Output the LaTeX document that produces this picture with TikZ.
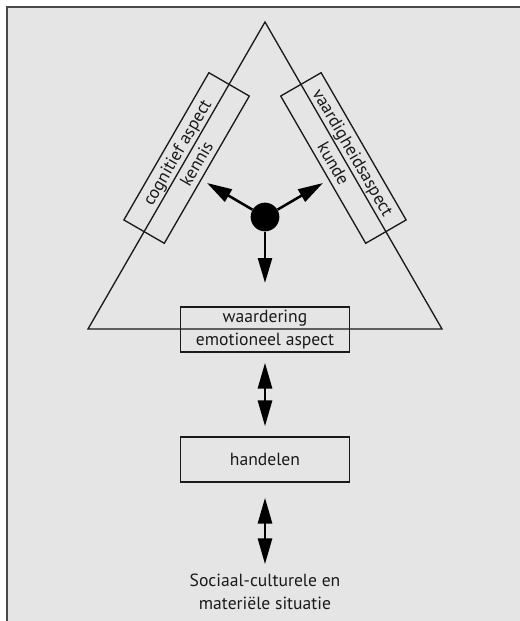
\documentclass[tikz,border=0pt]{standalone}
\usepackage{fontspec}
\setmainfont{PT Sans}
\usepackage{xcolor}
\usetikzlibrary{arrows.meta,calc}
\definecolor{DIAbg}{HTML}{E5E5E5}
\definecolor{DIAframe}{HTML}{4A4A4A}
\definecolor{DIAink}{HTML}{1A1A1A}
\tikzset{
  labelbox/.style={draw=DIAink, line width=1pt, align=center, minimum width=126.75pt, minimum height=33.75pt, inner sep=0pt, font=\fontsize{13.2}{17}\selectfont, text=DIAink},
  sidebox/.style={labelbox, minimum width=127.5pt, minimum height=35pt},
  sideline/.style={draw=DIAink, line width=1pt, line join=miter},
  dblarr/.style={{Triangle[length=19.5pt,width=10.5pt]}-{Triangle[length=19.5pt,width=10.5pt]}, line width=2.2pt, draw=black},
  dotarr/.style={-{Triangle[length=18.75pt,width=10.5pt]}, line width=1.9pt, draw=black},
  sittext/.style={align=center, font=\fontsize{13.2}{17.5}\selectfont, text=DIAink}
}

\begin{document}
\begin{tikzpicture}[x=0.75pt, y=-0.75pt]
\useasboundingbox (0,0) rectangle (520,621);
\fill[DIAbg] (7,7) rectangle (526,627);
\draw[DIAframe, line width=1.5pt] (7,7) rectangle (526,627);
\coordinate (top) at (265,22);
\coordinate (bl) at (88,329);
\coordinate (br) at (442,329);
\draw[sideline] (top) -- (bl) -- (br) -- cycle;
\node[sidebox, rotate=60] (kennis) at ($(top)!0.443!(bl)$) {cognitief aspect\\kennis};
\node[sidebox, rotate=-60] (kunde) at ($(top)!0.443!(br)$) {vaardigheidsaspect\\kunde};
\node[labelbox] (waard) at (265,329.5) {waardering\\emotioneel aspect};
\node[labelbox] (hand) at (265,459.5) {handelen};
\node[sittext] (sit) at (265,592) {Sociaal-culturele en\\materiële situatie};
\node[circle, fill=black, minimum size=21.5pt, inner sep=0pt] (hub) at (265,217) {};
\coordinate (tipL) at (207,183);
\coordinate (tipR) at (323,183);
\coordinate (tipD) at (265,283);
\draw[dotarr] (hub) -- (tipL);
\draw[dotarr] (hub) -- (tipR);
\draw[dotarr] (hub) -- (tipD);
\draw[dblarr, shorten <=7.5pt, shorten >=7.5pt] (waard) -- (hand);
\draw[dblarr, shorten <=11.25pt, shorten >=3.75pt] (hand) -- (sit);
\end{tikzpicture}
\end{document}
